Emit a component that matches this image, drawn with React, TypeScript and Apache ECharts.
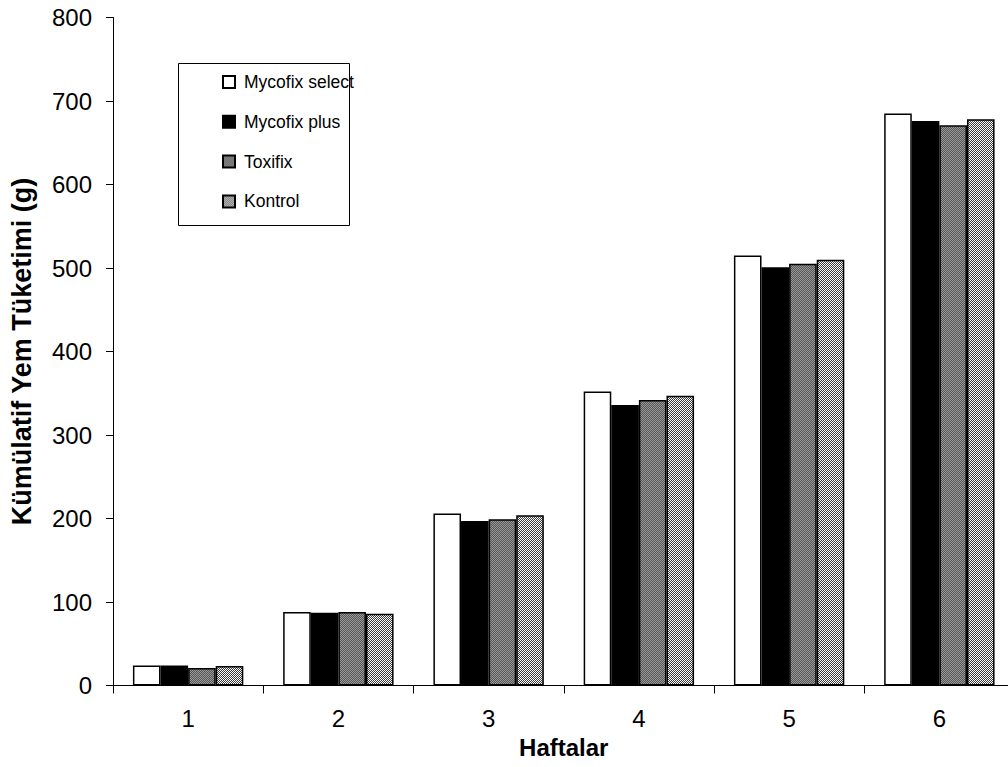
import React, { useEffect, useRef } from "react";
import * as echarts from "echarts";

const weeks = ["1", "2", "3", "4", "5", "6"];
const seriesNames = ["Mycofix select", "Mycofix plus", "Toxifix", "Kontrol"];
const mycofixSelect = [24, 88, 206, 352, 515, 685];
const mycofixPlus = [24, 87, 197, 336, 501, 676];
const toxifix = [21, 88, 199, 342, 505, 671];
const kontrol = [23.5, 86, 204, 347, 510, 678];
const yMin = 0;
const yMax = 800;
const yInterval = 100;
const xTitle = "Haftalar";
const yTitle = "Kümülatif Yem Tüketimi (g)";

const FONT = "'Liberation Sans', Arial, sans-serif";

function makePattern(kind: "diag" | "checker"): HTMLCanvasElement {
  const c = document.createElement("canvas");
  c.width = 4;
  c.height = 4;
  const ctx = c.getContext("2d")!;
  if (kind === "diag") {
    ctx.fillStyle = "#9a9a9a";
    ctx.fillRect(0, 0, 4, 4);
    ctx.fillStyle = "#555555";
    for (let i = 0; i < 4; i++) {
      ctx.fillRect(i, (i + 1) % 4, 1, 1);
      ctx.fillRect(i, (i + 3) % 4, 1, 1);
    }
  } else {
    for (let y = 0; y < 4; y++) {
      for (let x = 0; x < 4; x++) {
        ctx.fillStyle = (x + y) % 2 === 0 ? "#ffffff" : "#3a3a3a";
        ctx.fillRect(x, y, 1, 1);
      }
    }
  }
  return c;
}

export default function App() {
  const ref = useRef<HTMLDivElement>(null);
  useEffect(() => {
    if (!ref.current) return;
    const chart = echarts.init(ref.current, undefined, { renderer: "svg" });
    const diag = makePattern("diag");
    const checker = makePattern("checker");
    const fills: any[] = [
      "#ffffff",
      "#000000",
      { image: diag, repeat: "repeat" },
      { image: checker, repeat: "repeat" },
    ];
    const datas = [mycofixSelect, mycofixPlus, toxifix, kontrol];
    chart.setOption({
      animation: false,
      backgroundColor: "#ffffff",
      textStyle: { fontFamily: FONT },
      grid: { left: 112.5, top: 17.5, width: 902, height: 668 },
      legend: {
        orient: "vertical",
        left: 222,
        top: 73,
        padding: 0,
        itemWidth: 12,
        itemHeight: 12,
        itemGap: 21.8,
        icon: "rect",
        data: seriesNames,
        textStyle: {
          fontFamily: FONT,
          fontSize: 17.5,
          color: "#000",
          lineHeight: 17.5,
          padding: [0, 0, 0, 4],
        },
      },
      graphic: [
        {
          type: "rect",
          shape: { x: 178.5, y: 63.5, width: 171, height: 162 },
          style: { fill: "none", stroke: "#000", lineWidth: 1 },
          silent: true,
        },
      ],
      xAxis: {
        type: "category",
        data: weeks,
        name: xTitle,
        nameLocation: "middle",
        nameGap: 47,
        nameTextStyle: { fontFamily: FONT, fontSize: 24, fontWeight: "bold", color: "#000" },
        axisLine: { lineStyle: { color: "#000", width: 1 } },
        axisTick: { show: true, length: 8, lineStyle: { color: "#000" } },
        axisLabel: { fontFamily: FONT, fontSize: 24, color: "#000", margin: 21 },
        splitLine: { show: false },
      },
      yAxis: {
        type: "value",
        min: yMin,
        max: yMax,
        interval: yInterval,
        name: yTitle,
        nameLocation: "middle",
        nameGap: 78,
        nameTextStyle: { fontFamily: FONT, fontSize: 27, fontWeight: "bold", color: "#000" },
        axisLine: { show: true, lineStyle: { color: "#000", width: 1 } },
        axisTick: { show: true, length: 7, lineStyle: { color: "#000" } },
        axisLabel: { fontFamily: FONT, fontSize: 24, color: "#000", margin: 21 },
        splitLine: { show: false },
      },
      series: seriesNames.map((name, i) => ({
        name,
        type: "bar",
        data: datas[i],
        barWidth: 27.6,
        barGap: "0%",
        itemStyle: { color: fills[i], borderColor: "#000", borderWidth: 1.5 },
      })),
    });
    return () => chart.dispose();
  }, []);
  return (
    <div style={{ position: "fixed", left: 0, top: 0, width: 1008, height: 767, overflow: "hidden", background: "#fff" }}>
      <div ref={ref} style={{ width: 1040, height: 767 }} />
    </div>
  );
}
